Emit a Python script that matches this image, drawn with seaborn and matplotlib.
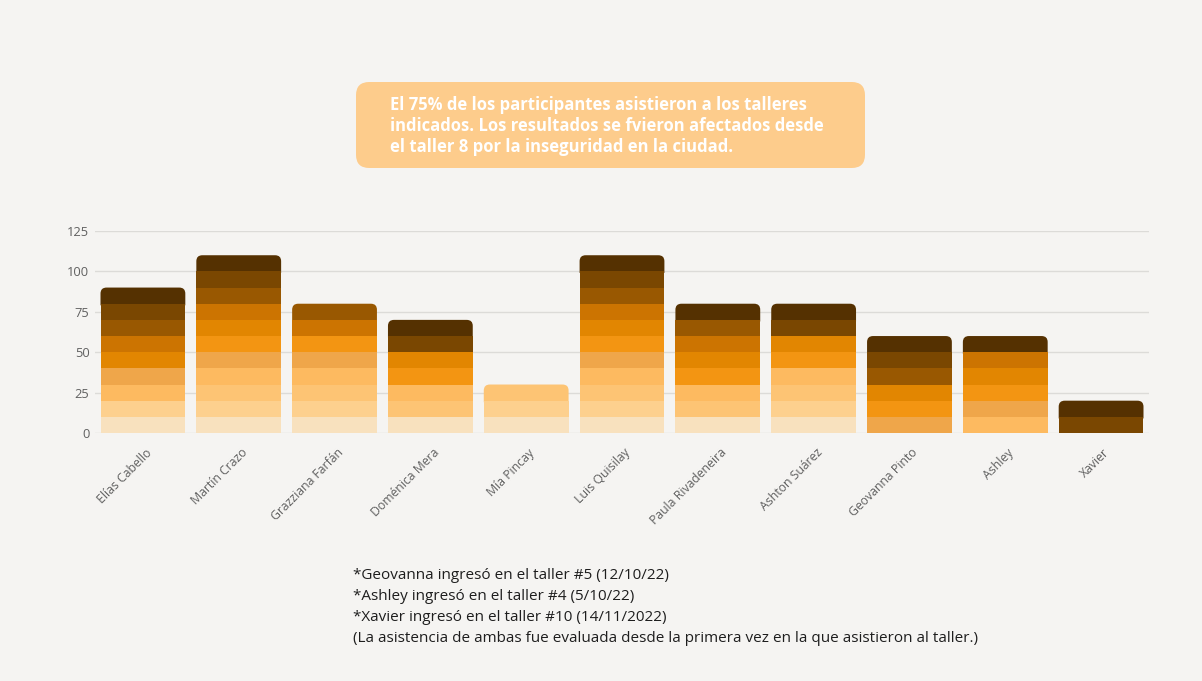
import numpy as np
import pandas as pd
import matplotlib
matplotlib.use("Agg")
import matplotlib.pyplot as plt
from matplotlib.patches import FancyBboxPatch, PathPatch
from matplotlib.path import Path
from matplotlib.transforms import ScaledTranslation
import seaborn as sns

# ---------------- data ----------------
names = ["Elías Cabello", "Martín Crazo", "Grazziana Farfán", "Doménica Mera",
         "Mía Pincay", "Luis Quisilay", "Paula Rivadeneira", "Ashton Suárez",
         "Geovanna Pinto", "Ashley", "Xavier"]
# workshops (talleres) attended by each participant, in the order of names
workshops_attended = [
    [1, 2, 4, 5, 7, 8, 9, 10, 11],
    [1, 2, 3, 4, 5, 6, 7, 8, 9, 10, 11],
    [1, 2, 3, 4, 5, 6, 8, 9],
    [1, 3, 4, 6, 7, 10, 11],
    [1, 2, 3],
    [1, 2, 3, 4, 5, 6, 7, 8, 9, 10, 11],
    [1, 3, 4, 6, 7, 8, 9, 11],
    [1, 2, 3, 4, 6, 7, 10, 11],
    [5, 6, 7, 9, 10, 11],
    [4, 5, 6, 7, 8, 11],
    [10, 11],
]
points_per_workshop = 10
workshop_colors = ["#F8E1BE", "#FDD08E", "#FDC474", "#FDBA60", "#EFA64A", "#F39512",
                   "#E28601", "#CC7401", "#995801", "#7A4701", "#553101"]
yticks = [0, 25, 50, 75, 100, 125]

title_lines = ["El 75% de los participantes asistieron a los talleres",
               "indicados. Los resultados se fvieron afectados desde",
               "el taller 8 por la inseguridad en la ciudad."]
note_lines = ["*Geovanna ingresó en el taller #5 (12/10/22)",
              "*Ashley ingresó en el taller #4 (5/10/22)",
              "*Xavier ingresó en el taller #10 (14/11/2022)",
              "(La asistencia de ambas fue evaluada desde la primera vez en la que asistieron al taller.)"]

# ---------------- style ----------------
BG = "#F5F4F2"
plt.rcParams['font.family'] = ['Open Sans', 'DejaVu Sans']

W, H = 1202, 681
fig = plt.figure(figsize=(W / 100, H / 100), dpi=100, facecolor=BG)
ax = fig.add_axes([95 / W, 1 - 433 / H, 1054 / W, 202 / H])
ax.set_facecolor("none")

rows = []
for name, ws in zip(names, workshops_attended):
    for j, w in enumerate(ws):
        rows.append(dict(name=name, layer=j, value=points_per_workshop,
                         workshop=f"T{w}"))
df = pd.DataFrame(rows)
palette = {f"T{i + 1}": c for i, c in enumerate(workshop_colors)}

# one seaborn call per stacking layer, each sitting on top of the previous one
for j in range(df["layer"].max() + 1):
    sub = df[df["layer"] == j]
    sns.barplot(data=sub, x="name", y="value", hue="workshop", hue_order=list(palette),
                palette=palette, order=names, dodge=False, width=0.885,
                saturation=1, legend=False, errorbar=None, linewidth=0,
                bottom=j * points_per_workshop, ax=ax)

# round the top corners of the uppermost segment of each bar
top_seg = {}
for p in list(ax.patches):
    h = p.get_height()
    if not np.isfinite(h) or h <= 0:
        continue
    key = round(p.get_x() + p.get_width() / 2, 2)
    if key not in top_seg or p.get_y() + h > top_seg[key].get_y() + top_seg[key].get_height():
        top_seg[key] = p

rx, ry = 0.063, 3.7
overlap = 1.0
for key, p in top_seg.items():
    x, y0, w, h = p.get_x(), p.get_y(), p.get_width(), p.get_height()
    fc = p.get_facecolor()
    z = p.get_zorder()
    p.remove()
    top = y0 + h
    yb = max(y0 - overlap, 0)
    verts = [(x, yb), (x + w, yb), (x + w, top - ry), (x + w, top), (x + w - rx, top),
             (x + rx, top), (x, top), (x, top - ry), (x, yb)]
    codes = [Path.MOVETO, Path.LINETO, Path.LINETO, Path.CURVE3, Path.CURVE3,
             Path.LINETO, Path.CURVE3, Path.CURVE3, Path.CLOSEPOLY]
    ax.add_patch(PathPatch(Path(verts, codes), fc=fc, ec="none", lw=0, zorder=z - 0.01))

ax.set_xlim(-0.5, len(names) - 0.5)
ax.set_ylim(0, 125)
ax.set_yticks(yticks)
ax.yaxis.grid(True, color="#DCDBD8", lw=1)
ax.xaxis.grid(False)
ax.set_axisbelow(True)
for s in ax.spines.values():
    s.set_visible(False)
ax.set_xlabel("")
ax.set_ylabel("")
ax.tick_params(length=0, labelcolor="#606060")
ax.tick_params(axis="y", pad=4, labelsize=9.3)
ax.tick_params(axis="x", pad=6, labelsize=8.8)
ax.set_xticks(range(len(names)))
ax.set_xticklabels(names, rotation=45, ha="right", rotation_mode="anchor")
shift = ScaledTranslation(2 / 100, -5 / 100, fig.dpi_scale_trans)
for lab in ax.get_xticklabels():
    lab.set_transform(lab.get_transform() + shift)

# ---------------- title box ----------------
box = FancyBboxPatch((356 / W, 1 - 168 / H), 509 / W, 86 / H,
                     boxstyle="round,pad=0,rounding_size=0.011",
                     mutation_aspect=W / H, transform=fig.transFigure,
                     fc="#FDCC8C", ec="none")
fig.add_artist(box)
for i, line in enumerate(title_lines):
    fig.text(390 / W, 1 - (110 + 21 * i) / H, line, color="white",
             fontsize=12, fontweight="bold", va="baseline", ha="left")

# ---------------- footnote ----------------
for i, line in enumerate(note_lines):
    fig.text(353 / W, 1 - (579 + 21 * i) / H, line, color="#1E1E1E",
             fontsize=11, va="baseline", ha="left")

fig.savefig("out.png", dpi=100, facecolor=BG)
